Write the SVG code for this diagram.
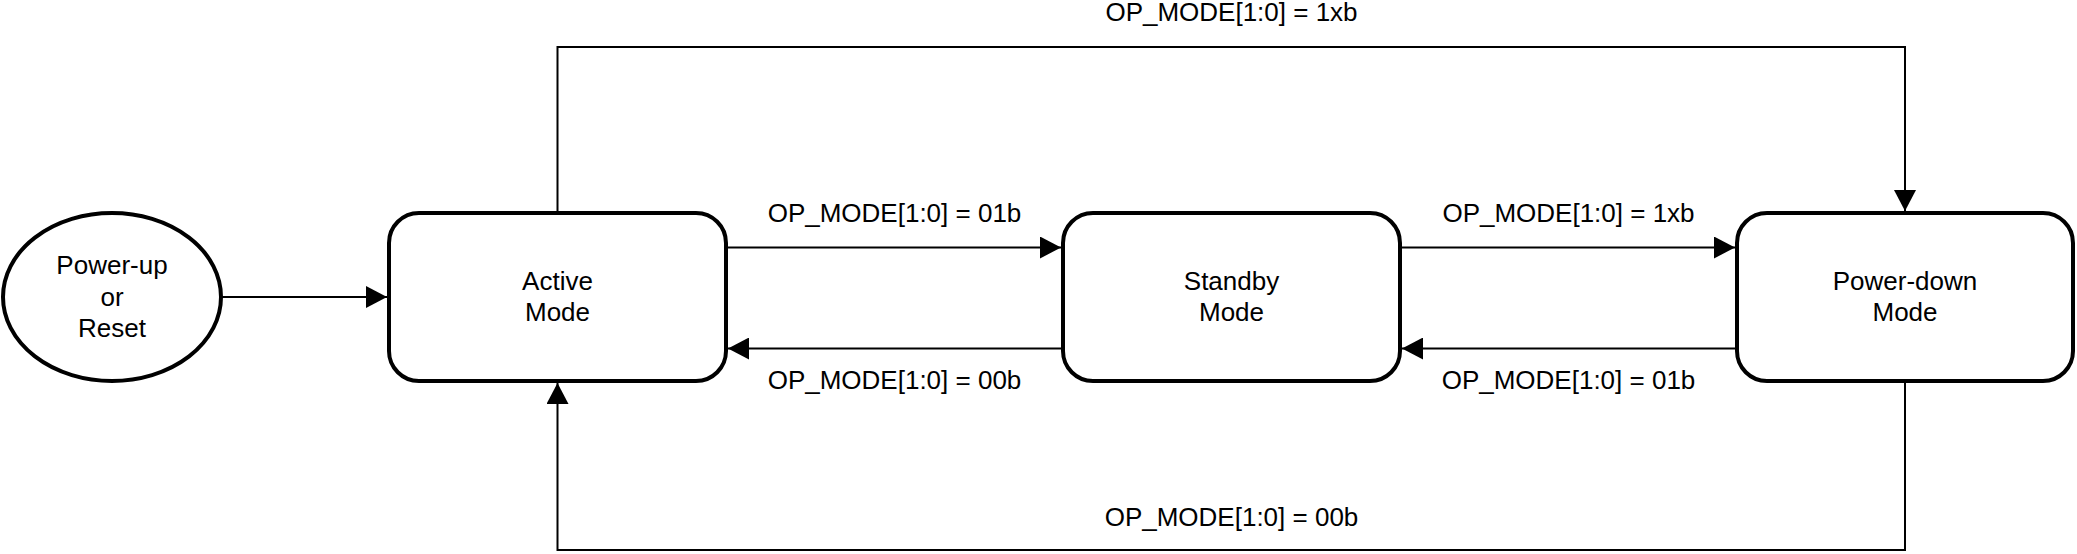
<svg xmlns="http://www.w3.org/2000/svg" width="2077" height="554" viewBox="0 0 2077 554">
<style>
.node{fill:#fff;stroke:#000;stroke-width:4}
.lbl{font-family:"Liberation Sans",Arial,sans-serif;font-size:26px;fill:#000;text-anchor:middle}
.conn{fill:none;stroke:#000;stroke-width:2}
</style>
<defs>
<marker id="arr" markerUnits="userSpaceOnUse" markerWidth="21" markerHeight="22" viewBox="0 0 21 22" refX="21" refY="11" orient="auto">
<path d="M0,0 L21,11 L0,22 Z" fill="#000"/>
</marker>
</defs>
<rect width="2077" height="554" fill="#fff"/>
<g id="connectors">
<line class="conn" x1="221" y1="297" x2="387" y2="297" marker-end="url(#arr)"/>
<line class="conn" x1="726" y1="247.5" x2="1061" y2="247.5" marker-end="url(#arr)"/>
<line class="conn" x1="1063" y1="348.5" x2="728" y2="348.5" marker-end="url(#arr)"/>
<line class="conn" x1="1400" y1="247.5" x2="1735" y2="247.5" marker-end="url(#arr)"/>
<line class="conn" x1="1737" y1="348.5" x2="1402" y2="348.5" marker-end="url(#arr)"/>
<polyline class="conn" points="557.5,213 557.5,47 1905,47 1905,211" marker-end="url(#arr)"/>
<polyline class="conn" points="1905,381 1905,550 557.5,550 557.5,383" marker-end="url(#arr)"/>
<text class="lbl" x="1231.5" y="21">OP_MODE[1:0] = 1xb</text>
<text class="lbl" x="894.5" y="222">OP_MODE[1:0] = 01b</text>
<text class="lbl" x="894.5" y="389">OP_MODE[1:0] = 00b</text>
<text class="lbl" x="1568.5" y="222">OP_MODE[1:0] = 1xb</text>
<text class="lbl" x="1568.5" y="389">OP_MODE[1:0] = 01b</text>
<text class="lbl" x="1231.5" y="526">OP_MODE[1:0] = 00b</text>
</g>
<g id="power-up">
<ellipse class="node" cx="112" cy="297" rx="109" ry="84"/>
<text class="lbl" x="112" y="274">Power-up</text>
<text class="lbl" x="112" y="306">or</text>
<text class="lbl" x="112" y="337">Reset</text>
</g>
<g id="active">
<rect class="node" x="389" y="213" width="337" height="168" rx="30" ry="30"/>
<text class="lbl" x="557.5" y="290">Active</text>
<text class="lbl" x="557.5" y="321">Mode</text>
</g>
<g id="standby">
<rect class="node" x="1063" y="213" width="337" height="168" rx="30" ry="30"/>
<text class="lbl" x="1231.5" y="290">Standby</text>
<text class="lbl" x="1231.5" y="321">Mode</text>
</g>
<g id="power-down">
<rect class="node" x="1737" y="213" width="336" height="168" rx="30" ry="30"/>
<text class="lbl" x="1905" y="290">Power-down</text>
<text class="lbl" x="1905" y="321">Mode</text>
</g>
</svg>
